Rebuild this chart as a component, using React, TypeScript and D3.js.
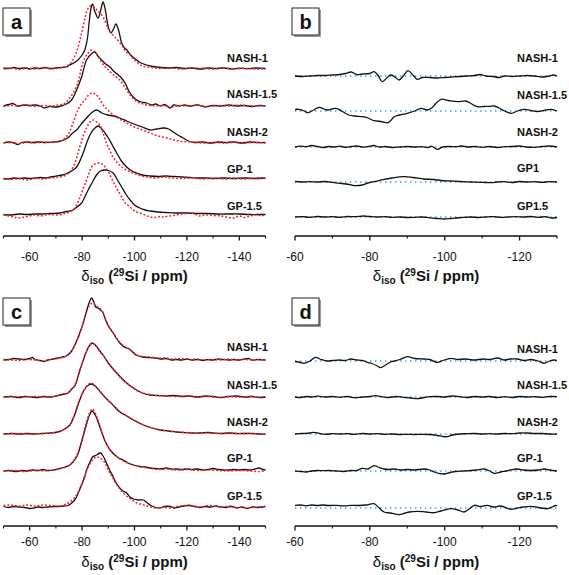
import React from "react";
import * as d3 from "d3";

type Pt = [number, number];

// ---------- categories / ticks ----------
const sampleLabels = ["NASH-1", "NASH-1.5", "NASH-2", "GP-1", "GP-1.5"];
const residualLabelsB = ["NASH-1", "NASH-1.5", "NASH-2", "GP1", "GP1.5"];
const residualLabelsD = ["NASH-1", "NASH-1.5", "NASH-2", "GP-1", "GP-1.5"];
const majorTicksSpec = [-60, -80, -100, -120, -140];
const minorTicksSpec = [-50, -70, -90, -110, -130, -150];
const majorTicksRes = [-60, -80, -100, -120];
const minorTicksRes = [-70, -90, -110, -130];
const specDomain: [number, number] = [-50, -150];
const resDomain: [number, number] = [-60, -130];

// ---------- panel a: experimental (black) and fit (red) ----------
const aNash1Exp: Pt[] = [[-50,1],[-52,0.5],[-54,1.5],[-56,0.5],[-58,1],[-60,0],[-62,1],[-64,0.5],[-66,1.5],[-68,0.5],[-70,1],[-72,1.5],[-74,2],[-75.3,4],[-78,8],[-80,14],[-81,19],[-82,30],[-82.7,47],[-83.5,62],[-84,65],[-84.8,58],[-86.1,51],[-87.2,60],[-88,67],[-88.8,60],[-90,42],[-91,36],[-92,40],[-92.9,45],[-93.8,40],[-95.1,26],[-96.2,21],[-97.1,19],[-98.5,14],[-100.8,9],[-102.5,6],[-104.7,4],[-107,2.5],[-110,1.5],[-113,1],[-116,1.5],[-119,0.5],[-122,1],[-125,0],[-128,1],[-131,0.5],[-134,1],[-137,0],[-140,0.8],[-143,0.3],[-146,1],[-150,0.5]];
const aNash1Fit: Pt[] = [[-50,0],[-53,1],[-56,-0.5],[-59,1],[-62,0],[-65,1.5],[-68,0],[-71,1],[-74,3],[-76,7],[-78,18],[-79.8,36],[-81,50],[-81.7,57],[-83,63],[-84.5,62],[-86,58],[-88,52],[-89.8,41],[-91,36],[-92.5,32],[-95.1,24],[-96.5,18],[-98.3,14],[-100,9],[-101.3,6],[-103,3],[-106,1.5],[-110,0.5],[-114,1],[-118,0],[-122,1],[-126,0.5],[-130,0],[-134,1],[-138,0],[-142,0.5],[-146,0],[-150,0.5]];
const aNash15Exp: Pt[] = [[-50,0],[-52,1.5],[-53.5,2.5],[-55.5,0],[-57.5,1],[-60,0.5],[-62,1],[-64,0],[-65.7,-2],[-67.5,-0.5],[-70,-1],[-72,0],[-74,2],[-76,6],[-77.9,16],[-79.8,29],[-81.7,46],[-83.5,52],[-84.9,54],[-86,50],[-87.4,46],[-89,42],[-90.6,39],[-92,35],[-93.8,31],[-95,28],[-96.4,23],[-97.3,18],[-98.3,13],[-99.5,9],[-100.8,6],[-102.5,4],[-104.7,3],[-106.5,1],[-108,2],[-110,0],[-111.5,1.5],[-113.6,-2],[-115,1],[-117,0],[-119,1],[-121,0],[-124,1],[-127,-1],[-130,0.5],[-133,0],[-136,1],[-139,0],[-142,0.5],[-145,-0.5],[-148,0.5],[-150,0]];
const aNash15Fit: Pt[] = [[-50,-0.5],[-53,0.5],[-56,0],[-59,1],[-62,-0.5],[-65,0.5],[-68,0],[-71,1],[-73,2],[-75,7],[-77.9,20],[-80.4,44],[-82,52],[-83.6,56],[-85,54],[-87,46],[-88.5,40],[-90,36],[-92,31],[-94.4,26],[-96.5,18],[-98.3,11],[-100,6],[-102,3],[-105,1],[-108,0],[-111,0.5],[-114,-1],[-117,0.5],[-120,0],[-124,1],[-128,-0.5],[-132,0.5],[-136,0],[-140,1],[-144,0],[-148,0.5],[-150,0]];
const aNash2Exp: Pt[] = [[-50,0],[-52,1],[-54,0],[-55.5,-1.5],[-57,0.5],[-59,1],[-61,0.5],[-63,1],[-66,0.5],[-69,1],[-71,1.5],[-73,3],[-74.5,5],[-76,9],[-77.9,13],[-80,20],[-81.7,25],[-83.5,30],[-85.5,33],[-87.5,30],[-89.8,28],[-92,27],[-94.4,25],[-97,22],[-100.8,18],[-103,16],[-106,13],[-108.5,14],[-111,15],[-113,14],[-114.8,11],[-116.5,8],[-118.6,5],[-121,1.5],[-123,0.5],[-126,1],[-129,0],[-132,1],[-135,0.5],[-138,1],[-141,0],[-144,1],[-147,0.5],[-150,0.5]];
const aNash2Fit: Pt[] = [[-50,0],[-53,0.5],[-56,-0.5],[-59,0.5],[-62,0],[-65,1],[-68,0.5],[-70,1],[-72.6,3],[-75,10],[-76.5,20],[-78.4,33],[-80,40],[-81,43],[-82.5,48],[-83.6,50],[-85,49],[-86.5,45],[-88,38],[-90.6,31],[-93,26],[-95,23],[-97,20],[-100,16],[-103,13],[-106,10],[-109,7],[-112.3,5],[-115,3],[-118.6,1.5],[-122,1],[-126,0],[-130,0.5],[-134,0],[-138,0.5],[-142,0],[-146,0.5],[-150,0]];
const aGp1Exp: Pt[] = [[-50,0.5],[-52,0],[-54,1],[-56,0.5],[-58,1],[-60,0.5],[-62,1],[-64,1.5],[-66,1],[-68,2],[-70.2,3],[-72.5,4],[-74.5,6],[-76,8],[-77.9,12],[-80.4,26],[-82,38],[-83,44],[-84.5,50],[-86.1,53],[-87.5,50],[-89,45],[-90,41],[-91.5,34],[-93.2,26],[-95,18],[-97,12],[-99,8],[-100.8,6],[-103,4],[-106,3],[-109,2.5],[-112,3],[-115,2.5],[-118,2],[-121,1.5],[-124,1],[-127,1],[-130,0.5],[-134,1],[-138,0.5],[-142,1],[-146,0.5],[-150,1]];
const aGp1Fit: Pt[] = [[-50,0],[-53,-0.5],[-56,0.5],[-59,-1],[-62,0.5],[-65,0],[-68,1],[-71,2],[-74,4],[-76.6,12],[-79.1,32],[-80.5,44],[-81.7,51],[-83,57],[-84.2,59],[-85.5,57],[-86.8,54],[-88,46],[-89.3,36],[-90.5,29],[-91.8,22],[-93.5,16],[-95.1,12],[-97,9],[-99.4,6],[-102,3.5],[-104.7,2],[-108,1],[-111,2],[-114,1],[-118,0.5],[-122,1],[-126,0],[-130,1],[-134,0],[-138,1],[-142,0],[-146,1],[-150,0.5]];
const aGp15Exp: Pt[] = [[-50,0.5],[-53,0],[-56,1],[-59,0.5],[-62,1],[-65,1],[-68,1.5],[-71.5,2],[-74,3.5],[-76.6,5],[-78,8],[-79.8,12],[-81,18],[-82.3,25],[-84,33],[-85.5,40],[-87,44],[-88.7,45],[-90,44.5],[-91.9,42],[-93.5,35],[-95.1,28],[-96.7,21],[-98.3,15],[-100,10],[-102,7],[-104,5],[-106,4],[-109,3],[-112,2.5],[-116,2],[-120,2],[-124,1.5],[-128,1.5],[-132,1],[-136,1],[-140,1],[-144,0.5],[-148,0.5],[-150,0.5]];
const aGp15Fit: Pt[] = [[-50,0],[-52,-1],[-54,-2],[-56,-3],[-58,-2],[-60,-1],[-62,0],[-64,-1],[-66,0],[-68,0.5],[-70,0],[-72,0.5],[-74,2],[-76.6,5],[-79.1,17],[-80.5,27],[-81.7,35],[-82.8,43],[-83.6,48],[-85,51],[-86.8,52],[-88.5,49],[-90,43],[-91.2,37],[-92.5,30],[-93.8,24],[-95.1,18],[-96.5,12],[-98.3,8],[-100,4],[-102,2],[-104,0],[-106,-2],[-108,-2.5],[-110,-1.5],[-111,-2],[-113,-1],[-116,0],[-118,1],[-120,1.5],[-121,2.5],[-123,1],[-125,-1],[-127,0],[-130,-0.5],[-133,-1],[-135,-2],[-137.7,-3],[-140,-1],[-142,-2.5],[-144,-1],[-146,0],[-148,-0.5],[-150,0]];

// ---------- panel c: experimental (black) and fit (red) ----------
const cNash1Exp: Pt[] = [[-50,0],[-52,0.5],[-54,1.5],[-56,1],[-58,0.5],[-60,1.5],[-61,2.5],[-62,0.5],[-64,-0.5],[-65.5,-1.5],[-67,0],[-69,1],[-70.8,2],[-72.5,3],[-74,4],[-76,9],[-77.9,19],[-79.8,32],[-81.7,49],[-82.8,58],[-83.6,62],[-84.5,58],[-85.2,53],[-86.1,52],[-87,50],[-88,47],[-89,40],[-90,34],[-91.9,27],[-93,22],[-94.4,17],[-96,13],[-97,12],[-98,11],[-98.9,9],[-100,6],[-101.5,4],[-103,3],[-106,2.3],[-108,2],[-110,1],[-112,1.5],[-114,0],[-116,0.5],[-118,0],[-120,1],[-122,0],[-124,0.5],[-126,-0.5],[-128,0.5],[-130,0],[-132,1],[-134,0.5],[-136,0],[-138,0.5],[-140,0],[-142,1],[-143.5,1.5],[-145,0],[-147,0.5],[-150,0]];
const cNash1Fit: Pt[] = [[-50,0.5],[-53,0],[-56,-0.5],[-59,0.5],[-62,0],[-65,-1],[-68,0.5],[-71,1.5],[-73,3],[-74.5,4.5],[-76,9],[-78,19],[-80,33],[-81.7,48],[-83,55],[-84,57],[-85,55],[-86,53],[-87.5,50],[-88.5,44],[-90,35],[-91.9,27],[-94.4,18],[-96,14],[-97.5,12],[-99,9],[-101,5],[-103,3.5],[-106,3],[-109,2],[-112,2],[-115,1],[-118,1.5],[-121,0.5],[-124,1],[-127,0],[-130,0.5],[-133,0],[-136,1],[-139,0],[-142,0.5],[-145,0],[-148,0.5],[-150,0]];
const cNash15Exp: Pt[] = [[-50,0],[-53,0.5],[-56,-0.5],[-58,0.5],[-61,0],[-63,-0.5],[-65,0.5],[-68,0],[-70,1],[-71.5,2],[-73,3],[-74.6,4],[-76,8],[-77.2,11],[-79.1,26],[-81,41],[-82.5,50],[-83.8,54],[-85,52],[-86.8,46],[-88.5,40],[-90,34],[-91.5,29],[-93.2,24],[-95,19],[-97,14],[-99,10],[-100.8,7],[-103,4],[-106,2],[-109,1.5],[-112,1],[-115,1.5],[-118,0.5],[-121,1],[-124,0],[-127,1],[-130,0.5],[-133,-0.5],[-136,0.5],[-139,1],[-142,0],[-145,0.5],[-148,-0.5],[-150,0]];
const cNash15Fit: Pt[] = [[-50,0],[-54,0.5],[-58,0],[-62,0.5],[-66,0],[-70,1],[-73,2.5],[-75,5],[-77.2,12],[-79.1,27],[-81,41],[-82.5,50],[-83.8,53],[-85,52],[-86.8,45],[-88.5,40],[-90,34],[-92,28],[-94,21],[-96,16],[-98,12],[-100,8],[-102,5],[-105,3],[-108,1.5],[-112,1],[-116,0.5],[-120,1],[-124,0],[-128,0.5],[-132,-0.5],[-136,0.5],[-140,0],[-144,0.5],[-148,0],[-150,0]];
const cNash2Exp: Pt[] = [[-50,0],[-53,0.5],[-56,0],[-59,0.5],[-62,0],[-65,0.5],[-68,1],[-70.7,2],[-72.7,4],[-75.3,9],[-77,18],[-79.1,34],[-81,45],[-82.5,49],[-83.6,50],[-85,48],[-87,42],[-89,36],[-90.6,32],[-92.5,27],[-94.4,22],[-96.5,19],[-98.3,16],[-101,12],[-103.4,9],[-106.5,6],[-109.8,4],[-113,3],[-116,2],[-118.6,1.5],[-122,1],[-125,1],[-128,1.5],[-130,1],[-133,0.5],[-136,1],[-139,0.5],[-142,0.5],[-145,0.5],[-148,0],[-150,0]];
const cNash2Fit: Pt[] = [[-50,0],[-55,0.5],[-60,0],[-65,0.5],[-68,1],[-71,2],[-73,4],[-75.3,9],[-77,19],[-79.1,35],[-81,45],[-82.5,50],[-83.6,51],[-85,48],[-87,42],[-89,36],[-91,31],[-93,26],[-95,21],[-97,18],[-99,15],[-102,11],[-105,7.5],[-108,5],[-112,3],[-116,2],[-120,1.5],[-124,1],[-128,1],[-132,0.5],[-136,0.5],[-140,0.5],[-145,0.3],[-150,0]];
const cGp1Exp: Pt[] = [[-50,0],[-52,0.5],[-55,-0.5],[-57,0.5],[-59,0],[-61,1],[-63,0.5],[-65,1.5],[-67,0.5],[-69,1],[-71.5,2.5],[-73.5,4],[-75.3,6],[-77.9,14],[-79.8,29],[-81.7,47],[-83,57],[-83.8,60],[-85,56],[-86.8,44],[-88,35],[-89.3,27],[-91,20],[-92.5,16],[-94,13],[-95.7,11],[-97.5,8],[-99.6,6],[-102,4.5],[-104,4],[-106,3],[-108,2.5],[-110,2],[-112.3,3],[-114,2],[-116,2],[-118,1.5],[-120,2],[-122,1.5],[-124,2],[-126,1],[-128,1.5],[-130,2.5],[-132,1.5],[-134,1],[-136,1],[-138,1.5],[-140,1],[-142,1.5],[-144,1],[-146,2],[-147.5,3],[-149,1.5],[-150,1]];
const cGp1Fit: Pt[] = [[-50,0],[-54,0.5],[-58,-0.5],[-62,0.5],[-66,0],[-69,1],[-72,2.5],[-74,4],[-76,8],[-78,16],[-80,32],[-81.7,49],[-83,59],[-84,62],[-85.2,57],[-86.8,45],[-88,35],[-89.5,26],[-91,20],[-93,15],[-95,11],[-97.5,8],[-100,5.5],[-103,4],[-106,2.5],[-109,1.5],[-112,2],[-115,1],[-118,1],[-121,1.5],[-124,0.5],[-128,1],[-132,0.5],[-136,0],[-140,0.5],[-144,0],[-147,-0.5],[-150,0]];
const cGp15Exp: Pt[] = [[-50,0.5],[-52,-0.5],[-54,0.5],[-56,0],[-58,-0.5],[-60,-1.5],[-61.5,-1],[-63,0],[-65,-0.5],[-67,0],[-69,0.5],[-71,0.5],[-73,1],[-74.6,1.5],[-76,4],[-77.2,7],[-78.5,14],[-79.8,22],[-81,30],[-81.7,37],[-83,45],[-84,50],[-85.5,52],[-87,54],[-88,51],[-89.3,44],[-90.5,37],[-91.9,30],[-93,24],[-94.4,19],[-95.5,16],[-97,14],[-98.3,10],[-99.6,8],[-101.5,7],[-103.4,7],[-104.5,5],[-106,2],[-107.5,0],[-109.8,-1],[-111.5,0.5],[-113.6,0.5],[-115,-1],[-117,0],[-119,1],[-121,1.5],[-123,0.5],[-125,-0.5],[-127,0.5],[-129,0],[-131,1],[-133,0],[-135,-0.5],[-137,0.5],[-139,-1],[-141,0],[-143,-1.5],[-145,0],[-147,-0.5],[-150,0.5]];
const cGp15Fit: Pt[] = [[-50,1.5],[-53,2],[-56,1],[-59,2],[-62,1],[-65,2],[-68,1.5],[-71,1],[-73,2],[-75,4.5],[-77,9],[-78.5,15],[-80,24],[-82,38],[-84,47],[-85.5,50],[-87,49],[-88.5,45],[-90,37],[-91.5,30],[-93,23],[-95,16],[-97,11],[-99,7],[-101,4],[-103,2.5],[-105,1],[-107,-0.5],[-109,-1],[-111,0],[-113,-1],[-115,0],[-117,1],[-119,1.5],[-121,2],[-123,1],[-125,0],[-127,1],[-129,1.5],[-131,0.5],[-133,0],[-135,0.5],[-137,1],[-139,-0.5],[-141,0],[-143,-1],[-145,-0.5],[-147,0],[-150,0.5]];

// ---------- panel b: residuals ----------
const bNash1Res: Pt[] = [[-60,0],[-62,-0.5],[-64,0],[-66,0.5],[-68,0.5],[-70,1],[-72,1.5],[-73.5,2.5],[-75,4],[-76.5,1.5],[-78,2],[-80,2.5],[-81.1,4.3],[-82.3,0],[-83.3,-5.7],[-84.5,-2],[-85.6,1],[-86.7,-1],[-87.8,-4],[-89,0.5],[-90.2,5.3],[-91.5,1],[-92.7,-3.3],[-94,-1.5],[-96,-1.5],[-98,-2],[-100,-1.5],[-102,-1],[-104,-0.5],[-106,0],[-108,0.5],[-109.5,1.5],[-111,0],[-113,-0.5],[-114.5,-1.5],[-116,0],[-118,-0.5],[-120,0],[-122,0.5],[-124,0],[-126,-1],[-128,0],[-129,1],[-130,0]];
const bNash15Res: Pt[] = [[-60,1.5],[-61,1.7],[-62.5,0],[-63.3,-1.7],[-65,1],[-66.4,3.7],[-68.6,1],[-70.9,2.7],[-72.5,0],[-74.4,-4],[-76,-5],[-78,-5.7],[-79.5,-7],[-81.1,-9.7],[-83,-10.5],[-84.9,-11.7],[-86.5,-5.7],[-88,-4],[-90,-2.3],[-92,0],[-93.6,2.7],[-95.4,1],[-96.5,3],[-97.5,7],[-99,11.7],[-101,10.5],[-103.4,9.3],[-105.6,10],[-107,7.5],[-108.7,4.3],[-110.5,4.5],[-112,4.7],[-113.2,5],[-114.5,3],[-116,0],[-117.7,-2.3],[-119.5,0],[-121.2,1.7],[-123,0.5],[-124.8,-0.5],[-126.5,0.5],[-128.4,1.7],[-130,0]];
const bNash2Res: Pt[] = [[-60,0],[-61.5,0.8],[-63,0.3],[-64.5,1.5],[-66,0.5],[-67.5,-0.5],[-69,0.5],[-70.5,0],[-72,0.8],[-73.5,-0.3],[-75,0.5],[-76.5,1],[-78,0],[-79.5,0.3],[-81,1.5],[-82.5,0],[-84,0.5],[-86,-0.5],[-88,0],[-90,0.5],[-92,0],[-94,0.3],[-95.5,-0.5],[-96.5,0.8],[-98,-2.3],[-99.5,0],[-101,0.5],[-103,0.3],[-104.5,1],[-106,0],[-108,0.5],[-110,-0.3],[-112,0.5],[-114,-0.5],[-116,0.3],[-118,0.5],[-120,1],[-122,0],[-124,-0.3],[-126,0.5],[-128,1],[-130,0]];
const bGp1Res: Pt[] = [[-60,0.5],[-62,0],[-64,0.3],[-66,0],[-68,0.5],[-70.4,-0.7],[-72.5,-1.5],[-74.5,-2.5],[-76.2,-3.7],[-78,-3],[-79.5,-1],[-81.1,0.3],[-83.8,2.7],[-86,4],[-89.1,5.3],[-91.5,4.5],[-94.5,3],[-97,2.5],[-99,1.5],[-101.6,1],[-104,0.5],[-107,0],[-110,-0.3],[-112.3,-0.7],[-114,0],[-116,0.3],[-118,-0.5],[-120,0.5],[-122,0],[-124,0.3],[-126,-0.3],[-128,0.3],[-130,0]];
const bGp15Res: Pt[] = [[-60,0],[-62,0.3],[-64,-0.3],[-66,0.5],[-68,0],[-70,0.3],[-72,-0.3],[-74,0.5],[-76,0.3],[-78.4,1],[-80,0.5],[-82,0],[-84,0.3],[-86,-0.3],[-88,0],[-90,-0.5],[-92,-0.3],[-94,0],[-96,-0.8],[-98,-1.5],[-99.8,-2],[-101.5,-1.5],[-103,-1],[-105,-0.3],[-107,0],[-109,-0.5],[-111,0],[-113,0.3],[-115,-0.3],[-117,0],[-119,0.3],[-121,0],[-123,0.5],[-125,-0.3],[-127,0.3],[-128.5,-1],[-130,-0.5]];

// ---------- panel d: residuals ----------
const dNash1Res: Pt[] = [[-60,-0.5],[-61.5,-1.5],[-62.4,-2.3],[-64,0],[-65.5,3.7],[-67,1.5],[-68.6,0],[-70,0.5],[-72,1],[-73.5,0.5],[-74.9,2],[-76.5,1],[-78,0.5],[-79.3,-1.3],[-80.5,-2.5],[-81.8,-4.5],[-82.9,-6.7],[-84.2,-4],[-85.5,-1],[-86.5,0],[-88,1.5],[-90,4.3],[-92,2.5],[-94.5,2],[-96,1.5],[-98,-1.3],[-99.5,0.5],[-101.6,2.7],[-103.5,1.5],[-105.5,2],[-107.5,1],[-110.5,2],[-112,1.5],[-114.1,3],[-116,1],[-117.5,2],[-119.4,2],[-121,0.5],[-123,1.5],[-125,0],[-126.6,-2.3],[-128,0],[-129.3,1],[-130,0.5]];
const dNash15Res: Pt[] = [[-60,0],[-61.5,-0.5],[-63,0.5],[-64.5,0],[-66,0.8],[-68,0],[-70,0.5],[-72,-0.3],[-74,0.5],[-76,-0.8],[-78,0],[-80,0.5],[-81.5,1.3],[-83,0.3],[-85,-0.5],[-87,0.5],[-89,-0.3],[-91,-1],[-92.7,-1.7],[-94.5,-0.5],[-96,0.3],[-98,0.5],[-100,0],[-102,1],[-104,0.3],[-106,-0.5],[-108,0.5],[-110,0],[-112,0.5],[-114,-0.5],[-116,0.3],[-118,-0.5],[-120,0.5],[-122,0],[-124,0.3],[-126,-0.3],[-128,0.5],[-130,0.3]];
const dNash2Res: Pt[] = [[-60,0],[-62,0.5],[-64,1],[-65,1.7],[-66.5,0.5],[-68,-0.3],[-70,0.3],[-72,0],[-74,0.3],[-76,-0.3],[-78,0.5],[-80,0],[-82,0.3],[-84,-0.3],[-86,0],[-88,-0.5],[-90,-0.3],[-92,-0.5],[-94,-0.3],[-96,-0.5],[-98,-1.5],[-99.5,-2.5],[-100.7,-2.7],[-102,-1],[-104,0],[-106,0.3],[-108,0.5],[-110,0],[-112,0.3],[-114,0],[-116,0.5],[-118,0.3],[-120,1],[-122,1],[-124,0.5],[-126,0.5],[-128,0],[-130,0]];
const dGp1Res: Pt[] = [[-60,0],[-61.5,-0.5],[-63,-1],[-64.5,0],[-66,0.5],[-67.5,0.3],[-69,0.5],[-71,0],[-73,-0.5],[-75,0.5],[-76.5,0.5],[-78,2.7],[-79.5,2],[-81.1,5.3],[-82.5,3.5],[-83.8,2],[-85,1.5],[-86.5,2],[-88,1],[-90,1.5],[-92,1],[-94.5,2],[-96,1],[-97.5,-1.5],[-99.8,-3],[-101.5,-1.5],[-103,-0.5],[-105,0],[-107,0.5],[-108.5,1],[-110.5,2],[-112,0],[-113.2,-2.3],[-115,-1],[-117,0.5],[-119.4,2],[-121,1],[-123,0.5],[-125,1],[-126.6,2],[-128,1],[-130,0]];
const dGp15Res: Pt[] = [[-60,2.7],[-61.5,3],[-63,2.2],[-64.5,3],[-66,2.5],[-67.5,3],[-69,2.5],[-71,2.7],[-73,2.2],[-75,2.7],[-77,2.5],[-79,3],[-81.1,4.3],[-82.5,0],[-83.8,-4],[-85.5,-5],[-87.8,-6.7],[-89.5,-5],[-90.5,-4],[-92.7,-3.3],[-95,-4],[-97.2,-4.7],[-99,-3],[-101.6,-0.7],[-103.5,-2],[-105.2,-4],[-106.5,-1],[-107.9,2.7],[-109.5,1.5],[-111.4,2.7],[-113,1],[-115,2],[-117.7,-1.3],[-119.5,0],[-121,1],[-123,1.7],[-125,0.5],[-127.5,-0.7],[-129,1.5],[-129.7,2.7],[-130,2]];

const FONT = "'Liberation Sans', Arial, Helvetica, sans-serif";

type PanelProps = {
  letter: string;
  left: number;
  right: number;
  domain: [number, number];
  axisY: number;
  tickLabelY: number;
  titleY: number;
  major: number[];
  minor: number[];
  baselines: number[];
  labelYs: number[];
  labelX: number;
  labels: string[];
  boxX: number;
  boxY: number;
  exp?: Pt[][];
  fit?: Pt[][];
  res?: Pt[][];
};

function Panel(p: PanelProps) {
  const x = d3.scaleLinear().domain(p.domain).range([p.left, p.right]);
  const titleX = (p.left + p.right) / 2;
  const rows = p.baselines.map((b, i) => {
    const y = d3.scaleLinear().domain([0, 70]).range([b, b - 70]);
    const line = d3
      .line<Pt>()
      .x((d) => x(d[0]))
      .y((d) => y(d[1]))
      .curve(d3.curveCatmullRom.alpha(0.5));
    return (
      <g key={i}>
        {p.res && (
          <line
            x1={x(p.domain[0])}
            x2={x(p.domain[1])}
            y1={y(0)}
            y2={y(0)}
            stroke="#3a9cf0"
            strokeWidth={1.6}
            strokeDasharray="1.4,3.6"
          />
        )}
        {p.exp && (
          <path d={line(p.exp[i]) || ""} fill="none" stroke="#111" strokeWidth={1.3} strokeLinejoin="round" />
        )}
        {p.fit && (
          <path d={line(p.fit[i]) || ""} fill="none" stroke="#ff1f2f" strokeWidth={1.5} strokeDasharray="2,1.8" />
        )}
        {p.res && (
          <path d={line(p.res[i]) || ""} fill="none" stroke="#111" strokeWidth={1.3} strokeLinejoin="round" />
        )}
        <text
          x={p.labelX}
          y={p.labelYs[i]}
          dy="0.35em"
          fontFamily={FONT}
          fontWeight="bold"
          fontSize={11}
          fill="#111"
        >
          {p.labels[i]}
        </text>
      </g>
    );
  });

  return (
    <g>
      {/* letter box */}
      <rect x={p.boxX + 2} y={p.boxY + 2} width={27} height={27} fill="#9a9a9a" />
      <rect x={p.boxX} y={p.boxY} width={27} height={27} fill="#fff" stroke="#222" strokeWidth={1} />
      <text
        x={p.boxX + 13.5}
        y={p.boxY + 13.5}
        dy="0.36em"
        textAnchor="middle"
        fontFamily={FONT}
        fontWeight="bold"
        fontSize={20}
        fill="#111"
      >
        {p.letter}
      </text>
      {rows}
      {/* axis */}
      <line x1={p.left} x2={p.right} y1={p.axisY} y2={p.axisY} stroke="#111" strokeWidth={1.7} />
      {p.major.map((t) => (
        <g key={"M" + t}>
          <line x1={x(t)} x2={x(t)} y1={p.axisY} y2={p.axisY + 4.5} stroke="#111" strokeWidth={1.3} />
          <text
            x={x(t)}
            y={p.tickLabelY}
            dy="0.35em"
            textAnchor="middle"
            fontFamily={FONT}
            fontSize={12}
            fill="#111"
          >
            {t}
          </text>
        </g>
      ))}
      {p.minor.map((t) => (
        <line key={"m" + t} x1={x(t)} x2={x(t)} y1={p.axisY} y2={p.axisY + 2.5} stroke="#111" strokeWidth={1.1} />
      ))}
      <text
        x={titleX}
        y={p.titleY}
        dy="0.35em"
        textAnchor="middle"
        fontFamily={FONT}
        fontSize={15}
        fill="#111"
      >
        <tspan>δ</tspan>
        <tspan fontSize={10} fontWeight="bold" dy={3}>iso</tspan>
        <tspan fontWeight="bold" dy={-3}> (</tspan>
        <tspan fontSize={10} fontWeight="bold" dy={-5}>29</tspan>
        <tspan fontWeight="bold" dy={5}>Si / ppm)</tspan>
      </text>
    </g>
  );
}

export default function App() {
  const aExp = [aNash1Exp, aNash15Exp, aNash2Exp, aGp1Exp, aGp15Exp];
  const aFit = [aNash1Fit, aNash15Fit, aNash2Fit, aGp1Fit, aGp15Fit];
  const cExp = [cNash1Exp, cNash15Exp, cNash2Exp, cGp1Exp, cGp15Exp];
  const cFit = [cNash1Fit, cNash15Fit, cNash2Fit, cGp1Fit, cGp15Fit];
  const bRes = [bNash1Res, bNash15Res, bNash2Res, bGp1Res, bGp15Res];
  const dRes = [dNash1Res, dNash15Res, dNash2Res, dGp1Res, dGp15Res];
  return (
    <div style={{ position: "absolute", left: 0, top: 0 }}>
      <svg width={569} height={575} style={{ display: "block", background: "#fff" }}>
        <Panel
          letter="a" left={3.5} right={265.5} domain={specDomain} axisY={236} tickLabelY={257} titleY={276}
          major={majorTicksSpec} minor={minorTicksSpec}
          baselines={[69, 106, 143, 179, 215]} labelYs={[57.7, 94.3, 132.3, 169, 205.7]} labelX={227}
          labels={sampleLabels} boxX={3} boxY={8} exp={aExp} fit={aFit}
        />
        <Panel
          letter="b" left={295} right={557} domain={resDomain} axisY={236} tickLabelY={257} titleY={276}
          major={majorTicksRes} minor={minorTicksRes}
          baselines={[76, 111, 147, 182, 217]} labelYs={[58.3, 95, 131.7, 168.3, 205.7]} labelX={517}
          labels={residualLabelsB} boxX={292} boxY={8} res={bRes}
        />
        <Panel
          letter="c" left={3.5} right={265.5} domain={specDomain} axisY={526} tickLabelY={542} titleY={562}
          major={majorTicksSpec} minor={minorTicksSpec}
          baselines={[360, 397, 434, 471, 507]} labelYs={[346.7, 385, 422.3, 458.3, 495.7]} labelX={227}
          labels={sampleLabels} boxX={3} boxY={298} exp={cExp} fit={cFit}
        />
        <Panel
          letter="d" left={295} right={557} domain={resDomain} axisY={526} tickLabelY={542} titleY={562}
          major={majorTicksRes} minor={minorTicksRes}
          baselines={[361, 397, 434, 471, 508]} labelYs={[349, 385, 422.3, 458.3, 495.7]} labelX={517}
          labels={residualLabelsD} boxX={292} boxY={298} res={dRes}
        />
      </svg>
    </div>
  );
}
